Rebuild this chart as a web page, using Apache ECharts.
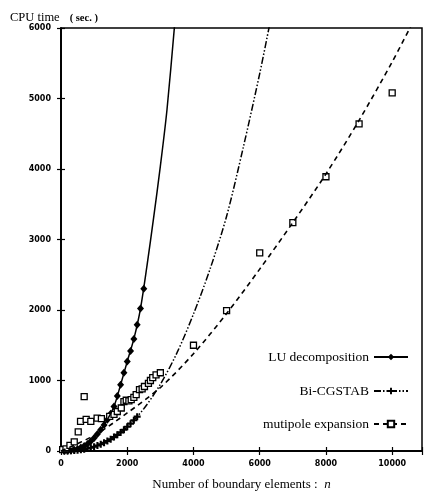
<!DOCTYPE html>
<html>
<head>
<meta charset="utf-8">
<script src="https://cdn.jsdelivr.net/npm/echarts@6/dist/echarts.min.js"></script>
<style>
    html, body { margin: 0; padding: 0; background: #fff; }
    #chart { width: 425px; height: 498px; }
</style>
</head>
<body>
<div id="chart"></div>
<script>
/* ===== CPU time vs number of boundary elements ===== */

// 曲线 (fitted curves)
const LU_CURVE_N = [0, 200, 400, 600, 800, 1000, 1200, 1400, 1600, 1800, 2000, 2200, 2400, 2600, 2800, 3000, 3200, 3450];
const LU_CURVE_T = [0, 3, 18, 48, 100, 185, 300, 445, 630, 940, 1270, 1590, 2020, 2640, 3320, 4040, 4840, 6150];

const BI_CURVE_N = [0, 500, 1000, 1500, 2000, 2500, 3000, 3500, 4000, 4500, 5000, 5500, 6000, 6300];
const BI_CURVE_T = [0, 11, 61, 167, 343, 600, 946, 1391, 1943, 2580, 3330, 4300, 5354, 6050];

const MP_CURVE_N = [0, 1000, 2000, 3000, 4000, 5000, 6000, 7000, 8000, 9000, 10000, 10600];
const MP_CURVE_T = [0, 220, 540, 900, 1380, 1950, 2580, 3240, 3930, 4690, 5520, 6060];

// 测量点 (measured points)
const LU_PTS_N = [100, 200, 300, 400, 500, 600, 700, 800, 900, 1000, 1100, 1200, 1300, 1400, 1500, 1600, 1700, 1800, 1900, 2000, 2100, 2200, 2300, 2400, 2500];
const LU_PTS_T = [1, 3, 8, 18, 30, 48, 70, 100, 140, 185, 240, 300, 370, 445, 530, 630, 780, 940, 1110, 1270, 1420, 1590, 1790, 2020, 2300];

const BI_PTS_N = [100, 200, 300, 400, 500, 600, 700, 800, 900, 1000, 1100, 1200, 1300, 1400, 1500, 1600, 1700, 1800, 1900, 2000, 2100, 2200, 2300];
const BI_PTS_T = [0, 1, 3, 6, 11, 17, 25, 35, 47, 61, 77, 96, 117, 141, 167, 197, 229, 264, 302, 343, 388, 436, 487];

const MP_PTS_N = [50, 150, 270, 400, 520, 590, 700, 760, 900, 1090, 1220, 1470, 1600, 1700, 1820, 1900, 1970, 2050, 2120, 2200, 2270, 2370, 2450, 2520, 2640, 2700, 2770, 2870, 3000,
    4000, 5000, 6000, 7000, 8000, 9000, 10000];
const MP_PTS_T = [20, 30, 80, 130, 270, 420, 770, 450, 420, 465, 460, 490, 520, 560, 610, 700, 720, 710, 730, 760, 800, 870, 880, 915, 960, 1000, 1040, 1080, 1110,
    1500, 1990, 2810, 3240, 3890, 4640, 5080];

const X_TICKS = [0, 2000, 4000, 6000, 8000, 10000];
const Y_TICKS = [0, 1000, 2000, 3000, 4000, 5000, 6000];

const NAMES = ["LU decomposition", "Bi-CGSTAB", "mutipole expansion"];

const PLUS = "path://M3.5,0h3v3.5h3.5v3h-3.5v3.5h-3v-3.5h-3.5v-3h3.5z";
const SERIF = "Liberation Serif";
const zip = (a, b) => a.map((v, i) => [v, b[i]]);

const chart = echarts.init(document.getElementById("chart"));

const tickAxis = (extra) => Object.assign({
    type: "value",
    min: 0,
    splitLine: { show: false },
    axisLine: { show: true, lineStyle: { color: "#000", width: 1.5 } },
    axisTick: { show: true, inside: true, length: 4, lineStyle: { color: "#000", width: 1.2 } },
}, extra);

const legendAt = (name, top) => ({
    data: [name],
    orient: "vertical",
    align: "right",
    right: 11,
    top,
    itemWidth: 34,
    itemHeight: 8,
    textStyle: { fontFamily: SERIF, fontSize: 13.5, color: "#000" },
    selectedMode: false,
});

chart.setOption({
    animation: false,
    backgroundColor: "#fff",
    title: {
        left: 5, top: 4,
        text: "{a|CPU time}  {b|( sec. )}",
        textStyle: {
            fontWeight: "normal",
            rich: {
                a: { fontFamily: SERIF, fontSize: 12.5, fontWeight: "normal", color: "#000" },
                b: { fontFamily: SERIF, fontSize: 10.5, fontWeight: "bold", color: "#000" },
            },
        },
    },
    legend: [
        legendAt(NAMES[0], 345),
        legendAt(NAMES[1], 379),
        legendAt(NAMES[2], 412),
    ],
    grid: { left: 61, right: 1, top: 28, bottom: 47, show: true, borderColor: "#000", borderWidth: 1.5 },
    xAxis: [
        tickAxis({
            max: 10900, interval: 2000,
            name: "{a|Number of boundary elements :}  {n|n}",
            nameLocation: "middle",
            nameGap: 27,
            nameTextStyle: {
                rich: {
                    a: { fontFamily: SERIF, fontSize: 13, color: "#000" },
                    n: { fontFamily: SERIF, fontSize: 13, fontStyle: "italic", color: "#000" },
                },
            },
            axisLabel: {
                fontFamily: "DejaVu Sans", fontWeight: "bold", fontSize: 8, color: "#000", margin: 9,
                formatter: v => X_TICKS.includes(v) ? String(v) : "",
            },
        }),
        tickAxis({ max: 10900, interval: 2000, position: "top", axisLabel: { show: false } }),
    ],
    yAxis: [
        tickAxis({
            max: 6000, interval: 1000,
            axisLabel: {
                fontFamily: "DejaVu Sans", fontWeight: "bold", fontSize: 8, color: "#000", margin: 10,
                formatter: v => Y_TICKS.includes(v) ? String(v) : "",
            },
        }),
        tickAxis({ max: 6000, interval: 1000, position: "right", axisLabel: { show: false } }),
    ],
    series: [
        {
            name: NAMES[0], type: "line", smooth: 0.3, showSymbol: false, symbol: "diamond",
            data: zip(LU_CURVE_N, LU_CURVE_T),
            lineStyle: { color: "#000", width: 1.5 },
            itemStyle: { color: "#000" },
        },
        {
            name: NAMES[1], type: "line", smooth: 0.3, showSymbol: false, symbol: PLUS,
            data: zip(BI_CURVE_N, BI_CURVE_T),
            lineStyle: { color: "#000", width: 1.5, type: [7, 2, 1.5, 2, 1.5, 2] },
            itemStyle: { color: "#000" },
        },
        {
            name: NAMES[2], type: "line", smooth: 0.3, showSymbol: false, symbol: "rect",
            data: zip(MP_CURVE_N, MP_CURVE_T),
            lineStyle: { color: "#000", width: 1.6, type: [5, 4] },
            itemStyle: { color: "#fff", borderColor: "#000", borderWidth: 1.2 },
        },
        {
            name: "LU pts", type: "scatter", symbol: "diamond", symbolSize: [7, 8],
            data: zip(LU_PTS_N, LU_PTS_T),
            itemStyle: { color: "#000", opacity: 1 },
        },
        {
            name: "Bi pts", type: "scatter", symbol: PLUS, symbolSize: 7,
            data: zip(BI_PTS_N, BI_PTS_T),
            itemStyle: { color: "#000", opacity: 1 },
        },
        {
            name: "MP pts", type: "scatter", symbol: "rect", symbolSize: 6,
            data: zip(MP_PTS_N, MP_PTS_T),
            itemStyle: { color: "#fff", borderColor: "#000", borderWidth: 1.3, opacity: 1 },
        },
    ],
});
</script>
</body>
</html>
